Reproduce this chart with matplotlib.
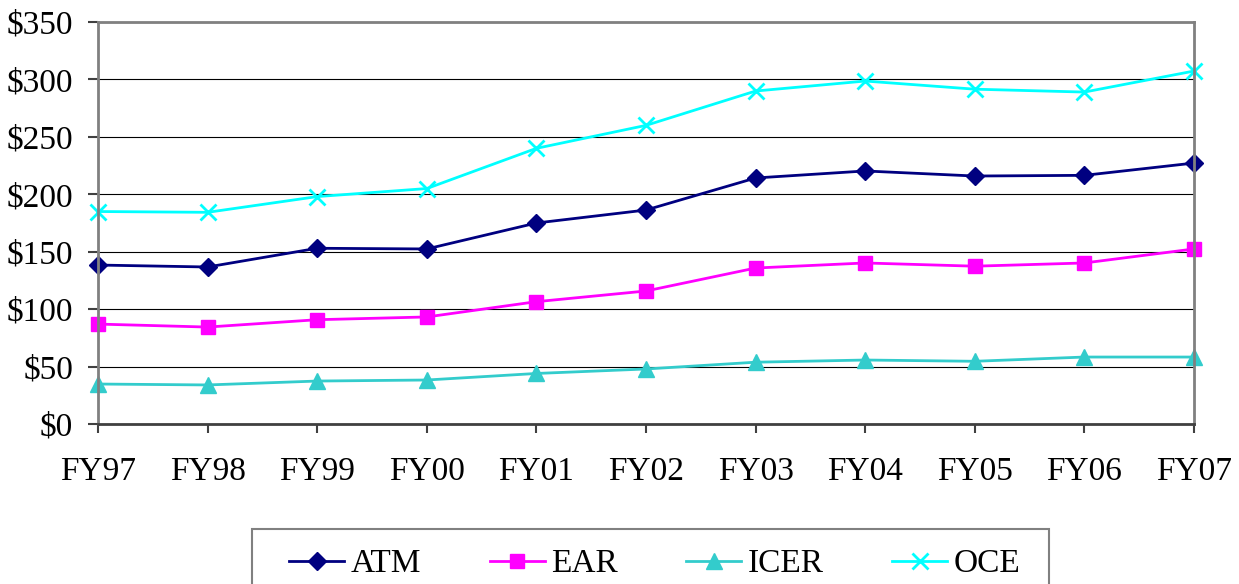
import matplotlib
matplotlib.use("Agg")
import matplotlib.pyplot as plt
from matplotlib.patches import Rectangle

years = ["FY97", "FY98", "FY99", "FY00", "FY01", "FY02", "FY03", "FY04", "FY05", "FY06", "FY07"]
atm = [138.4, 136.7, 153.0, 152.4, 175.0, 186.3, 214.2, 220.3, 215.9, 216.5, 227.2]
ear = [87.0, 84.4, 90.8, 93.2, 106.5, 115.8, 135.8, 140.2, 137.4, 140.2, 152.4]
icer = [34.8, 34.0, 37.4, 38.3, 44.0, 47.9, 53.8, 55.7, 54.6, 58.3, 58.3]
oce = [185.0, 184.3, 198.0, 205.0, 240.0, 260.0, 289.9, 298.6, 291.5, 289.0, 307.3]

plt.rcParams['font.family'] = ['Liberation Serif', 'DejaVu Serif']

W, H = 1239, 584
fig = plt.figure(figsize=(W/100, H/100), dpi=100)
ax = fig.add_axes([98/W, 1-424/H, (1194-98)/W, (424-22)/H])

x = list(range(len(years)))
ax.plot(x, atm, color="#000080", marker="D", markersize=9, lw=2, label="ATM", clip_on=False)
ax.plot(x, ear, color="#FF00FF", marker="s", markersize=10, lw=2, label="EAR", clip_on=False)
ax.plot(x, icer, color="#33CCCC", marker="^", markersize=11, lw=2, label="ICER", clip_on=False)
ax.plot(x, oce, color="#00FFFF", marker="x", markersize=11, mew=2, lw=2, label="OCE", clip_on=False)

ax.set_xlim(0, len(years) - 1)
ax.set_ylim(0, 350)
ax.set_yticks(range(0, 351, 50))
ax.set_yticklabels([f"${v}" for v in range(0, 351, 50)], fontsize=24)
ax.set_xticks(x)
ax.set_xticklabels(years, fontsize=24)
ax.yaxis.grid(True, color="black", lw=0.8)
ax.set_axisbelow(True)
for s in ["left", "right", "top"]:
    ax.spines[s].set_color("#808080")
    ax.spines[s].set_linewidth(2)
ax.spines["bottom"].set_color("#404040")
ax.spines["bottom"].set_linewidth(2)
ax.tick_params(axis="both", direction="out", width=1.5, color="#404040")
ax.tick_params(axis="x", length=6.5, pad=17)
ax.tick_params(axis="y", length=7, pad=11)

# legend frame
fig.patches.append(Rectangle((252/W, -0.05), (1049-252)/W, 0.05 + (H-529)/H,
                             transform=fig.transFigure, fill=False,
                             edgecolor="#808080", lw=1.5))
leg = fig.legend(loc="center left", bbox_to_anchor=(289/W, 1-564/H), ncol=4,
                 fontsize=24, frameon=False,
                 handlelength=1.65, handletextpad=0.2, columnspacing=2.05,
                 borderpad=0, borderaxespad=0)

fig.savefig("out.png", dpi=100)
